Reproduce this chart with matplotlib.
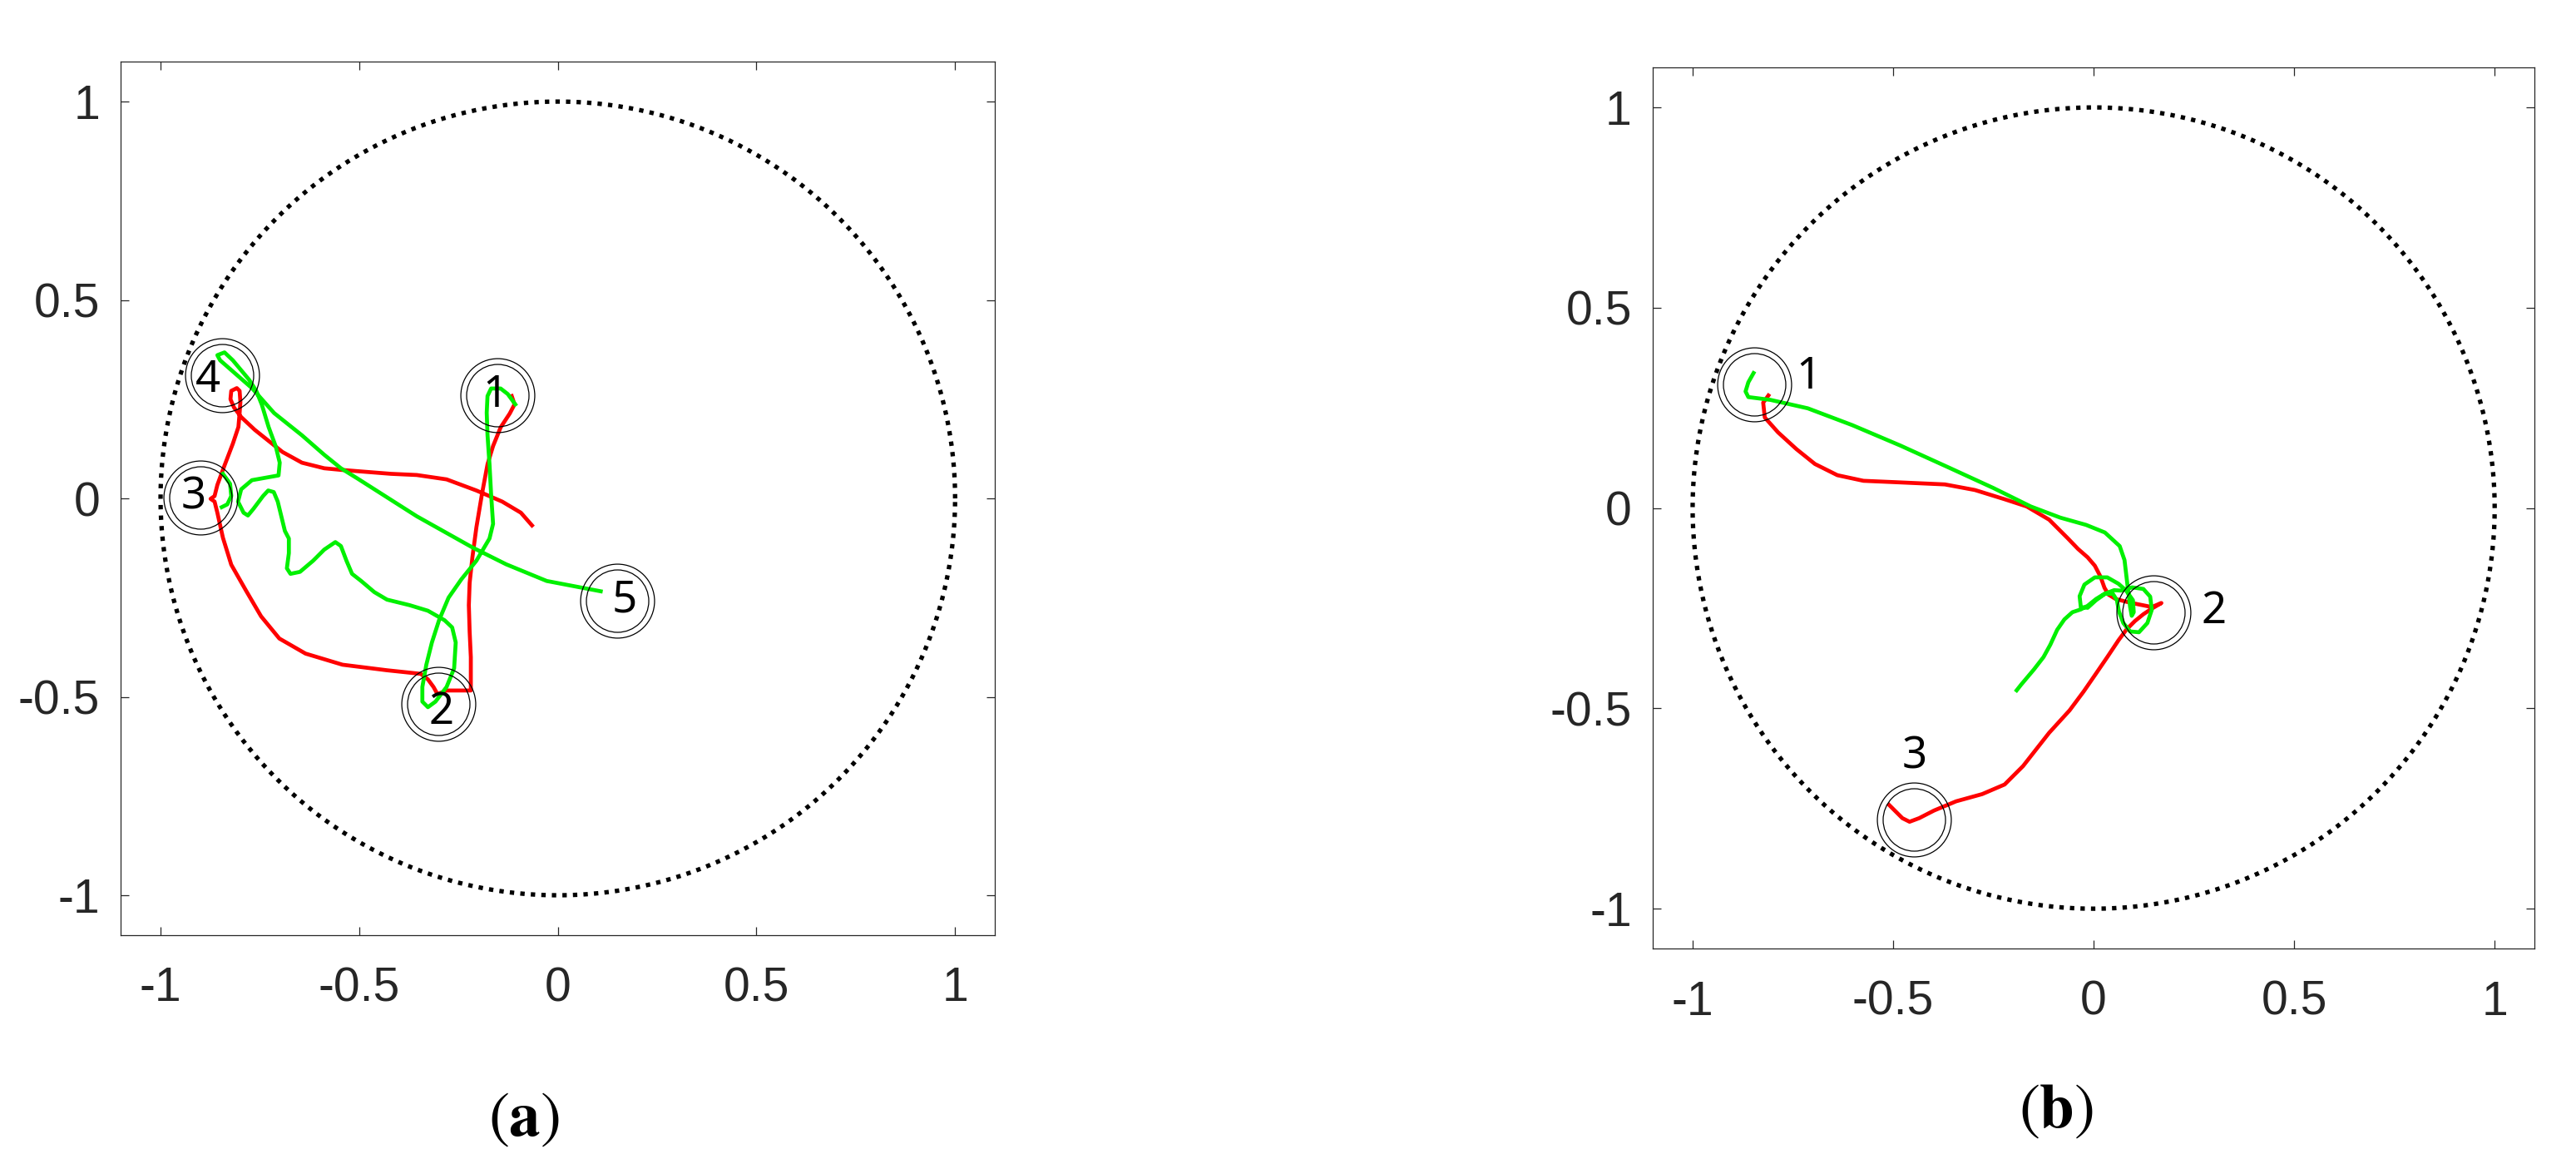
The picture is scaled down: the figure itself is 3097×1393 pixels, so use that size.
import numpy as np
import matplotlib
matplotlib.use("Agg")
import matplotlib.pyplot as plt

plt.rcParams['mathtext.fontset'] = 'stix'

# ---------------- data ----------------
ticks = [-1, -0.5, 0, 0.5, 1]
tick_labels = ['-1', '-0.5', '0', '0.5', '1']
workspace_radius = 1.0

# panel (a)
red_a_x = [-0.116, -0.109, -0.121, -0.144, -0.163, -0.177, -0.191, -0.205, -0.215, -0.222, -0.224,
           -0.222, -0.219, -0.219, -0.280, -0.303, -0.313, -0.327, -0.345, -0.430, -0.542, -0.635,
           -0.701, -0.747, -0.785, -0.822, -0.843, -0.857, -0.864, -0.874, -0.864, -0.857, -0.839,
           -0.818, -0.804, -0.801, -0.799, -0.801, -0.808, -0.822, -0.824, -0.815, -0.797, -0.763,
           -0.728, -0.693, -0.644, -0.588, -0.546, -0.420, -0.355, -0.280, -0.205, -0.140, -0.093, -0.065]
red_a_y = [0.258, 0.237, 0.214, 0.179, 0.132, 0.086, 0.011, -0.073, -0.148, -0.213, -0.269,
           -0.335, -0.400, -0.484, -0.484, -0.493, -0.475, -0.456, -0.442, -0.433, -0.419, -0.391,
           -0.353, -0.297, -0.232, -0.167, -0.099, -0.036, -0.008, -0.001, 0.006, 0.034, 0.083,
           0.138, 0.180, 0.215, 0.243, 0.271, 0.278, 0.271, 0.250, 0.229, 0.205, 0.173,
           0.145, 0.117, 0.090, 0.076, 0.072, 0.062, 0.059, 0.048, 0.020, -0.008, -0.036, -0.068]

green_a_x = [-0.107, -0.126, -0.144, -0.168, -0.177, -0.179, -0.177, -0.172, -0.168, -0.163, -0.172,
             -0.205, -0.243, -0.275, -0.299, -0.317, -0.331, -0.341, -0.341, -0.327, -0.308, -0.280,
             -0.261, -0.257, -0.266, -0.285, -0.327, -0.373, -0.430, -0.462, -0.495, -0.518, -0.532,
             -0.546, -0.560, -0.588, -0.616, -0.649, -0.673, -0.682, -0.677, -0.677, -0.687, -0.696,
             -0.705, -0.715, -0.729, -0.742, -0.766, -0.780, -0.791, -0.805, -0.797, -0.770, -0.703,
             -0.700, -0.710, -0.728, -0.745, -0.759, -0.777, -0.818, -0.839, -0.857, -0.850, -0.818,
             -0.770, -0.714, -0.644, -0.588, -0.546, -0.504, -0.355, -0.214, -0.130, -0.028, 0.108]
green_a_y = [0.237, 0.263, 0.277, 0.277, 0.258, 0.216, 0.160, 0.086, 0.011, -0.064, -0.101,
             -0.157, -0.204, -0.250, -0.307, -0.363, -0.419, -0.475, -0.512, -0.526, -0.512, -0.475,
             -0.428, -0.363, -0.325, -0.307, -0.283, -0.269, -0.255, -0.236, -0.208, -0.190, -0.157,
             -0.120, -0.110, -0.129, -0.157, -0.185, -0.190, -0.176, -0.138, -0.101, -0.082, -0.045,
             -0.008, 0.016, 0.020, 0.006, -0.026, -0.043, -0.036, -0.008, 0.023, 0.046, 0.058,
             0.090, 0.131, 0.180, 0.236, 0.271, 0.299, 0.348, 0.368, 0.361, 0.348, 0.320,
             0.278, 0.215, 0.159, 0.110, 0.076, 0.050, -0.045, -0.124, -0.166, -0.208, -0.234]
green_a_hook_x = [-0.843, -0.825, -0.822, -0.832, -0.846]
green_a_hook_y = [0.062, 0.037, 0.006, -0.015, -0.022]

marks_a_x = [-0.152, -0.300, -0.900, -0.846, 0.150]
marks_a_y = [0.261, -0.517, 0.002, 0.310, -0.258]
labels_a = ['1', '2', '3', '4', '5']
labels_a_x = [-0.158, -0.294, -0.916, -0.881, 0.167]
labels_a_y = [0.258, -0.540, 0.002, 0.296, -0.258]

# panel (b)
red_b_x = [-0.811, -0.824, -0.820, -0.787, -0.741, -0.695, -0.639, -0.574, -0.482, -0.371, -0.296,
           -0.222, -0.167, -0.111, -0.065, -0.039, -0.015, 0.003, 0.017, 0.027, 0.037, 0.055,
           0.082, 0.110, 0.145, 0.169, 0.145, 0.124, 0.103, 0.082, 0.062, 0.034, 0.006, -0.025,
           -0.060, -0.111, -0.176, -0.222, -0.278, -0.343, -0.398, -0.435, -0.459, -0.477, -0.510]
red_b_y = [0.281, 0.263, 0.226, 0.189, 0.147, 0.110, 0.082, 0.068, 0.064, 0.059, 0.045,
           0.022, 0.004, -0.029, -0.075, -0.102, -0.123, -0.144, -0.171, -0.199, -0.216, -0.227,
           -0.234, -0.240, -0.247, -0.237, -0.251, -0.265, -0.282, -0.303, -0.330, -0.372, -0.413, -0.458,
           -0.505, -0.561, -0.644, -0.690, -0.714, -0.732, -0.755, -0.774, -0.783, -0.774, -0.741]

green_b_x = [-0.848, -0.861, -0.868, -0.861, -0.806, -0.713, -0.602, -0.482, -0.361, -0.250, -0.157,
             -0.083, -0.019, 0.028, 0.065, 0.077, 0.081, 0.086, 0.091, 0.095, 0.100, 0.098,
             0.081, 0.062, 0.034, 0.003, -0.023, -0.035, -0.032, -0.015, 0.006, 0.030, 0.051,
             0.068, 0.096, 0.124, 0.141, 0.145, 0.134, 0.113, 0.091, 0.074, 0.063, 0.058,
             0.048, 0.027, 0.006, -0.015, -0.032, -0.053, -0.073, -0.091, -0.108, -0.125, -0.149,
             -0.181, -0.192]
green_b_y = [0.337, 0.314, 0.291, 0.277, 0.270, 0.249, 0.207, 0.156, 0.101, 0.050, 0.004,
             -0.024, -0.042, -0.061, -0.095, -0.130, -0.164, -0.206, -0.247, -0.269, -0.260, -0.230,
             -0.206, -0.189, -0.173, -0.173, -0.191, -0.220, -0.247, -0.249, -0.230, -0.213, -0.205,
             -0.206, -0.198, -0.202, -0.221, -0.254, -0.287, -0.310, -0.308, -0.287, -0.258, -0.230,
             -0.214, -0.214, -0.227, -0.244, -0.253, -0.260, -0.278, -0.304, -0.341, -0.372, -0.403,
             -0.441, -0.455]

marks_b_x = [-0.846, 0.150, -0.449]
marks_b_y = [0.309, -0.260, -0.778]
labels_b = ['1', '2', '3']
labels_b_x = [-0.711, 0.299, -0.447]
labels_b_y = [0.326, -0.259, -0.621]

captions = ['a', 'b']

# ---------------- drawing ----------------
fig = plt.figure(figsize=(30.97, 13.93), dpi=100)
ax_a = fig.add_axes([0.0469, 0.1933, 0.3393, 0.7533])
ax_b = fig.add_axes([0.6415, 0.1814, 0.3425, 0.7605])

theta = np.linspace(0, 2 * np.pi, 721)
axis_col = '#262626'
traj_lw = 3.4
red_col = '#ff0000'
green_col = '#00f000'


def style(ax):
    ax.set_xlim(-1.1, 1.1)
    ax.set_ylim(-1.1, 1.1)
    ax.set_xticks(ticks)
    ax.set_xticklabels(tick_labels, family='Liberation Sans')
    ax.set_yticks(ticks)
    ax.set_yticklabels(tick_labels, family='Liberation Sans')
    ax.tick_params(direction='in', length=7.5, width=0.9, top=True, right=True,
                   labelsize=41, colors=axis_col)
    ax.tick_params(axis='x', pad=27)
    ax.tick_params(axis='y', pad=18)
    for s in ax.spines.values():
        s.set_color(axis_col)
        s.set_linewidth(0.9)
    ax.plot(workspace_radius * np.cos(theta), workspace_radius * np.sin(theta),
            ls=(0, (1, 1.4)), color='black', lw=3.8, zorder=1)


def marks(ax, mx, my, labs, lx, ly):
    ax.plot(mx, my, ls='none', marker='o', ms=64, mfc='none', mec='black', mew=0.9, zorder=4)
    ax.plot(mx, my, ls='none', marker='o', ms=54, mfc='none', mec='black', mew=0.9, zorder=4)
    for t, x, y in zip(labs, lx, ly):
        ax.text(x, y, t, ha='center', va='center', fontsize=38, family='Noto Sans',
                color='black', zorder=5)


style(ax_a)
ax_a.plot(red_a_x, red_a_y, color=red_col, lw=traj_lw, zorder=2, solid_joinstyle='round')
ax_a.plot(green_a_x, green_a_y, color=green_col, lw=traj_lw, zorder=3, solid_joinstyle='round')
ax_a.plot(green_a_hook_x, green_a_hook_y, color=green_col, lw=traj_lw, zorder=3, solid_joinstyle='round')
marks(ax_a, marks_a_x, marks_a_y, labels_a, labels_a_x, labels_a_y)

style(ax_b)
ax_b.plot(red_b_x, red_b_y, color=red_col, lw=traj_lw, zorder=2, solid_joinstyle='round')
ax_b.plot(green_b_x, green_b_y, color=green_col, lw=traj_lw, zorder=3, solid_joinstyle='round')
marks(ax_b, marks_b_x, marks_b_y, labels_b, labels_b_x, labels_b_y)

fig.text(0.2034, 0.033, r'($\mathbf{%s}$)' % captions[0], ha='center', va='center',
         fontsize=54, family='STIXGeneral')
fig.text(0.7982, 0.040, r'($\mathbf{%s}$)' % captions[1], ha='center', va='center',
         fontsize=54, family='STIXGeneral')

fig.savefig('out.png', dpi=100, facecolor='white')
